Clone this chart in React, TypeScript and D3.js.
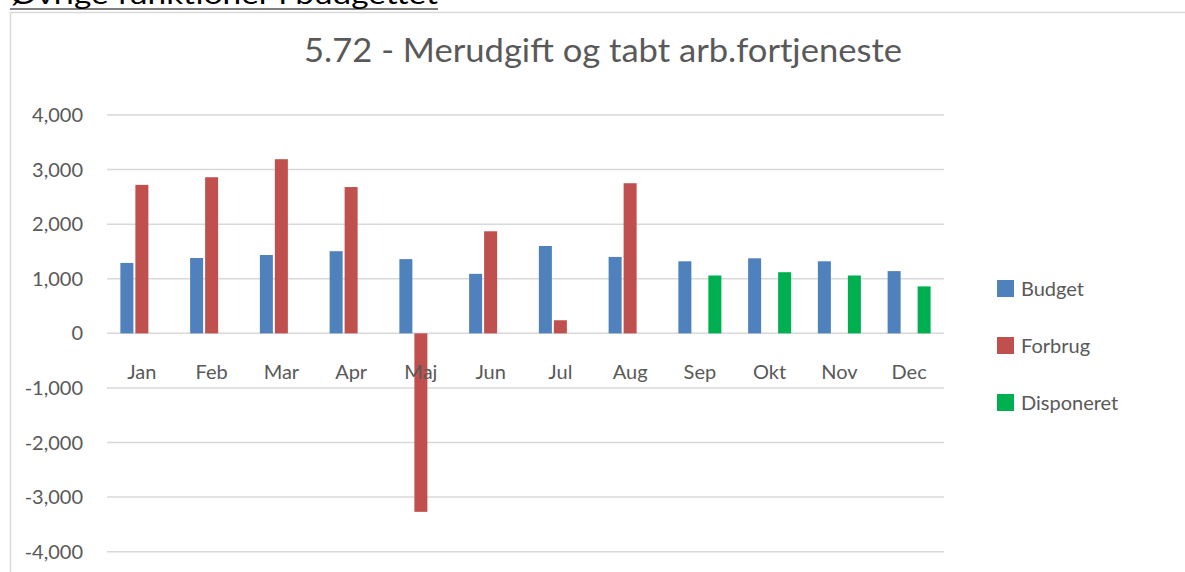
import { useEffect, useRef } from 'react';
import * as d3 from 'd3';

const months = ['Jan', 'Feb', 'Mar', 'Apr', 'Maj', 'Jun', 'Jul', 'Aug', 'Sep', 'Okt', 'Nov', 'Dec'];
const seriesNames = ['Budget', 'Forbrug', 'Disponeret'];
const budget = [1290, 1380, 1435, 1505, 1360, 1090, 1600, 1400, 1320, 1375, 1320, 1140];
const forbrug = [2720, 2860, 3190, 2680, -3270, 1870, 240, 2750, null, null, null, null];
const disponeret = [null, null, null, null, null, null, null, null, 1060, 1120, 1060, 860];
const yTicks = [-4000, -3000, -2000, -1000, 0, 1000, 2000, 3000, 4000];
const colors = ['#4f81bd', '#c0504d', '#00b050'];

const FONT = 'Lato, "Open Sans", sans-serif';
const GREY = '#595959';

const App = () => {
  const svgRef = useRef<SVGSVGElement>(null);

  useEffect(() => {
    const width = 1185;
    const height = 572;
    const plot = { left: 107, right: 944, top: 115, bottom: 551.7 };

    const svg = d3.select(svgRef.current)
      .attr('width', width)
      .attr('height', height)
      .style('background-color', '#ffffff');

    svg.selectAll('*').remove();

    // page heading (cut off at top, as in the source page) and chart frame
    svg.append('text')
      .attr('x', 10)
      .attr('y', 4)
      .attr('textLength', 428)
      .attr('lengthAdjust', 'spacingAndGlyphs')
      .style('font-family', FONT)
      .style('font-size', '26px')
      .attr('fill', '#000')
      .text('Øvrige funktioner i budgettet');
    svg.append('line')
      .attr('x1', 10).attr('x2', 438)
      .attr('y1', 9).attr('y2', 9)
      .attr('stroke', '#000').attr('stroke-width', 1.2);

    svg.append('path')
      .attr('d', `M10.5,${height + 2} L10.5,12.5 L${width + 2},12.5`)
      .attr('fill', 'none')
      .attr('stroke', '#d9d9d9')
      .attr('stroke-width', 1.5);

    // scales
    const yScale = d3.scaleLinear().domain([-4000, 4000]).range([plot.bottom, plot.top]);
    const xScale = d3.scaleBand()
      .domain(months)
      .range([plot.left, plot.right])
      .paddingInner(0.3835)
      .paddingOuter(0.19175);
    const xSub = d3.scaleBand()
      .domain(seriesNames)
      .range([0, xScale.bandwidth()])
      .paddingInner(0.133)
      .paddingOuter(0);

    // gridlines
    svg.append('g')
      .selectAll('line')
      .data(yTicks)
      .enter()
      .append('line')
      .attr('x1', plot.left)
      .attr('x2', plot.right)
      .attr('y1', d => yScale(d))
      .attr('y2', d => yScale(d))
      .attr('stroke', '#d9d9d9')
      .attr('stroke-width', 1.5);

    // y tick labels (plain hyphen for negatives, like Excel)
    svg.append('g')
      .selectAll('text')
      .data(yTicks)
      .enter()
      .append('text')
      .attr('x', 83)
      .attr('y', d => yScale(d))
      .attr('dy', '0.35em')
      .attr('text-anchor', 'end')
      .style('font-family', FONT)
      .style('font-size', '20px')
      .attr('fill', GREY)
      .text(d => d3.format(',')(d).replace('\u2212', '-'));

    // bars
    const allSeries = [budget, forbrug, disponeret];
    allSeries.forEach((values, si) => {
      svg.append('g')
        .selectAll('rect')
        .data(values.map((v, i) => ({ m: months[i], v })).filter(d => d.v !== null))
        .enter()
        .append('rect')
        .attr('x', d => (xScale(d.m) as number) + (xSub(seriesNames[si]) as number))
        .attr('y', d => yScale(Math.max(0, d.v as number)))
        .attr('width', xSub.bandwidth())
        .attr('height', d => Math.abs(yScale(d.v as number) - yScale(0)))
        .attr('fill', colors[si]);
    });

    // category labels
    svg.append('g')
      .selectAll('text')
      .data(months)
      .enter()
      .append('text')
      .attr('x', d => (xScale(d) as number) + xScale.bandwidth() / 2)
      .attr('y', 372)
      .attr('dy', '0.35em')
      .attr('text-anchor', 'middle')
      .style('font-family', FONT)
      .style('font-size', '20px')
      .attr('fill', GREY)
      .text(d => d);

    // title
    svg.append('text')
      .attr('x', 603)
      .attr('y', 50)
      .attr('dy', '0.35em')
      .attr('text-anchor', 'middle')
      .attr('textLength', 598)
      .attr('lengthAdjust', 'spacingAndGlyphs')
      .style('font-family', FONT)
      .style('font-size', '33px')
      .attr('fill', GREY)
      .text('5.72 - Merudgift og tabt arb.fortjeneste');

    // legend
    const legend = svg.append('g')
      .selectAll('g')
      .data(seriesNames)
      .enter()
      .append('g')
      .attr('transform', (d, i) => `translate(997, ${280 + i * 57})`);
    legend.append('rect')
      .attr('width', 17)
      .attr('height', 17)
      .attr('fill', (d, i) => colors[i]);
    legend.append('text')
      .attr('x', 24)
      .attr('y', 8.5)
      .attr('dy', '0.35em')
      .style('font-family', FONT)
      .style('font-size', '20px')
      .attr('fill', GREY)
      .text(d => d);
  }, []);

  return <svg ref={svgRef} style={{ position: 'fixed', left: 0, top: 0, display: 'block' }}></svg>;
};

export default App;
